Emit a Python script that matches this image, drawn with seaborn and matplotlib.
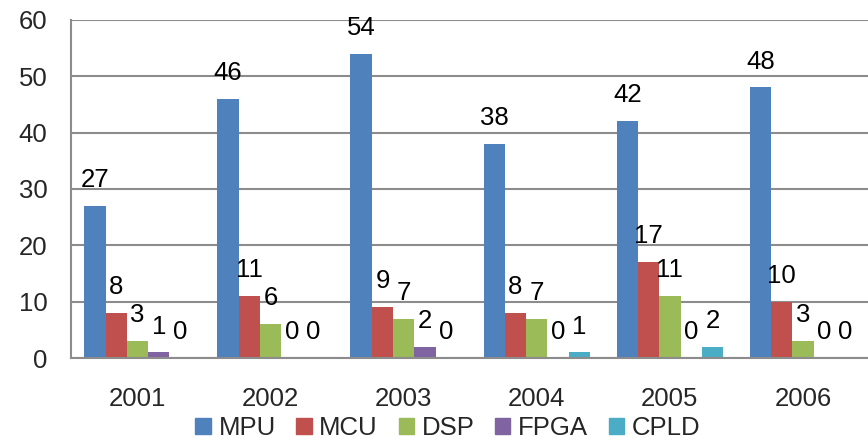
import seaborn as sns
import pandas as pd
import matplotlib.pyplot as plt
import numpy as np

years = ["2001", "2002", "2003", "2004", "2005", "2006"]
series = ["MPU", "MCU", "DSP", "FPGA", "CPLD"]
mpu = [27, 46, 54, 38, 42, 48]
mcu = [8, 11, 9, 8, 17, 10]
dsp = [3, 6, 7, 7, 11, 3]
fpga = [1, 0, 2, 0, 0, 0]
cpld = [0, 0, 0, 1, 2, 0]
colors = ["#4F81BD", "#C0504D", "#9BBB59", "#8064A2", "#4BACC6"]

rows = []
for name, vals in zip(series, [mpu, mcu, dsp, fpga, cpld]):
    for y, v in zip(years, vals):
        rows.append({"年": y, "类型": name, "数量": v})
df = pd.DataFrame(rows)

sns.set_theme(style="white")
plt.rcParams['font.family'] = ['Liberation Sans', 'DejaVu Sans']

fig = plt.figure(figsize=(8.68, 4.41), dpi=100)
ax = fig.add_axes([0.0818, 0.188, 0.92, 0.767])
sns.barplot(data=df, x="年", y="数量", hue="类型", palette=colors,
            width=0.8, saturation=1, linewidth=0, edgecolor="none",
            ax=ax, legend=False)

for cont in ax.containers:
    ax.bar_label(cont, padding=10, fontsize=18.5, color="black")

ax.set_ylim(0, 60)
ax.set_xlim(-0.5, 5.5)
ax.set_yticks(range(0, 61, 10))
ax.yaxis.grid(True, color="#8c8c8c", linewidth=1.5)
ax.set_axisbelow(True)
ax.tick_params(axis="y", labelsize=18.5, length=7, color="#8c8c8c", width=1.5, pad=10)
ax.tick_params(axis="x", which="major", labelsize=18.5, length=0, pad=21)
ax.set_xticks(np.arange(-0.5, 6, 1), minor=True)
ax.tick_params(axis="x", which="minor", length=6, color="#8c8c8c", width=1.5, direction="out")
for s in ["top", "right"]:
    ax.spines[s].set_visible(False)
for s in ["left", "bottom"]:
    ax.spines[s].set_color("#8c8c8c")
    ax.spines[s].set_linewidth(1.5)
ax.set_xlabel("")
ax.set_ylabel("")

handles = [plt.Rectangle((0, 0), 1, 1, color=c) for c in colors]
fig.legend(handles, series, loc="center", bbox_to_anchor=(0.516, 0.03), ncol=5,
           frameon=False, fontsize=18.5, handlelength=0.6, handleheight=0.6,
           handletextpad=0.3, columnspacing=0.8, borderpad=0)

plt.savefig("out.png", dpi=100)
